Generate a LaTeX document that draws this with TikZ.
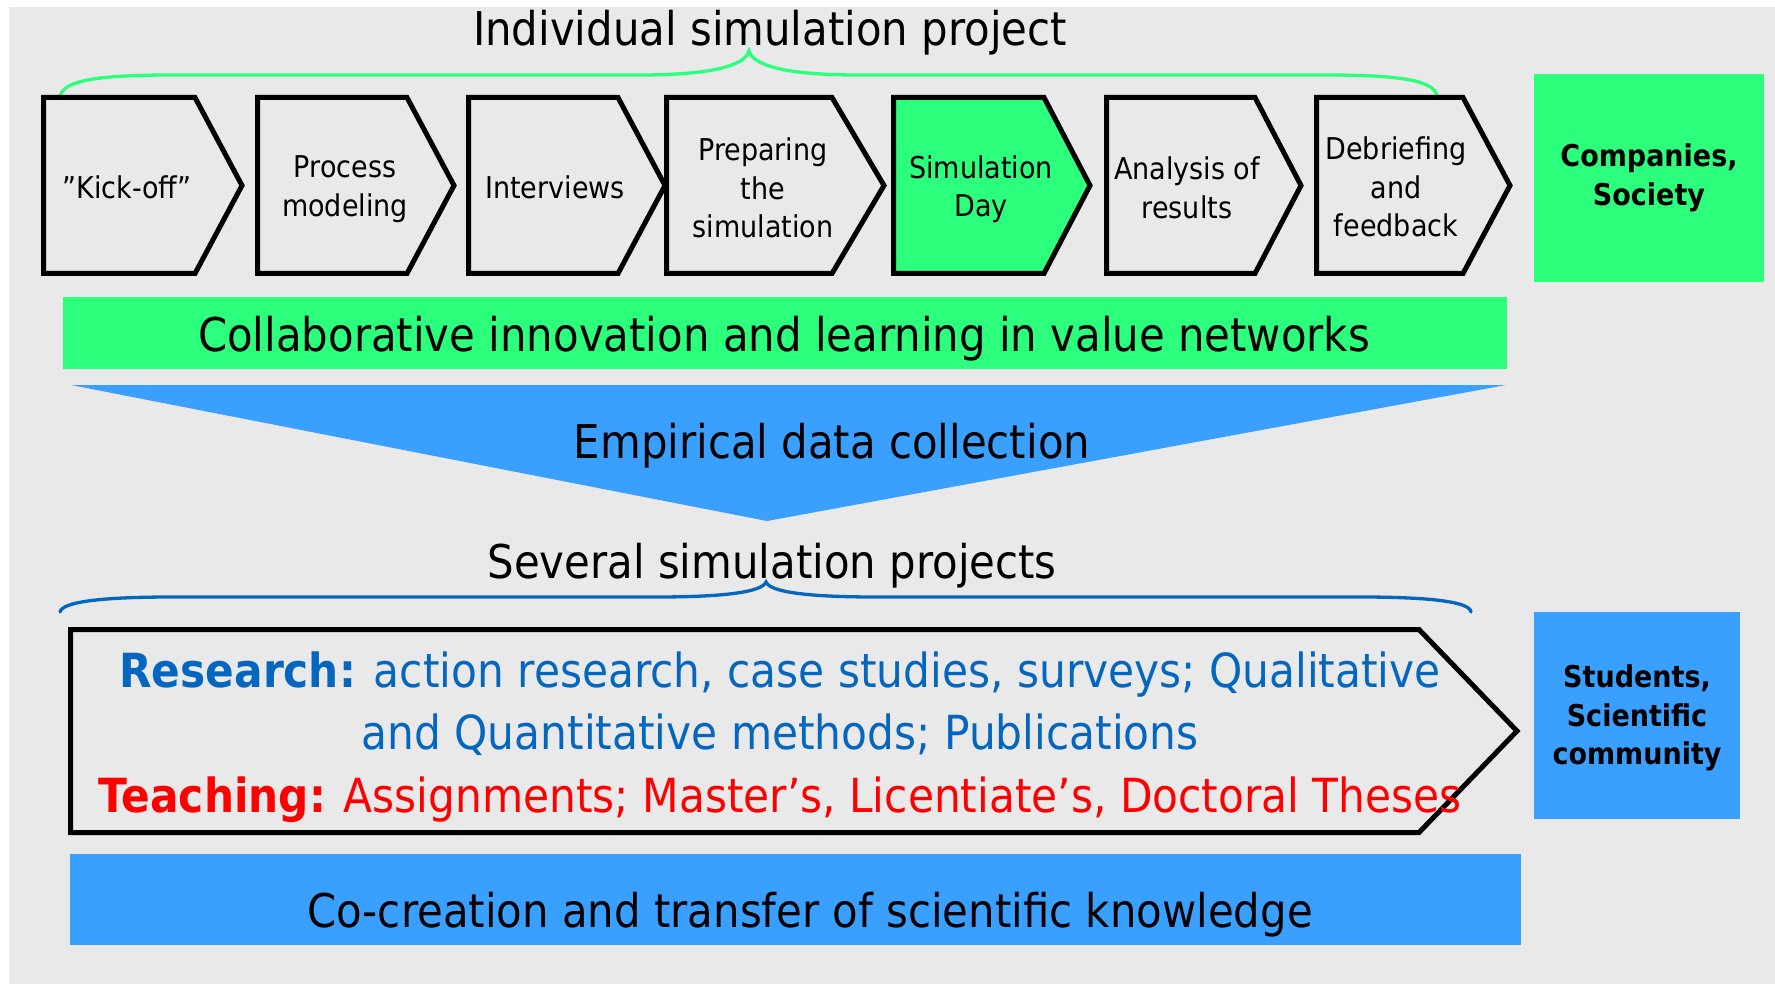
\documentclass[tikz,border=0pt]{standalone}
\usepackage{fontspec}
\setmainfont{DejaVu Sans}[FakeStretch=0.9]
\definecolor{bg}{RGB}{233,233,233}
\definecolor{sgreen}{RGB}{44,255,123}
\definecolor{sblue}{RGB}{58,160,255}
\definecolor{dblue}{RGB}{5,102,192}
\definecolor{sred}{RGB}{255,0,0}
\begin{document}
\begin{tikzpicture}[x=1pt,y=-1pt,
  chev/.style={draw=black,line width=5pt,line join=miter},
  chevtext/.style={align=center,font=\fontsize{30}{38.5}\selectfont,inner sep=0pt},
  bigtext/.style={anchor=base,inner sep=0pt,font=\fontsize{46.5}{56}\selectfont},
  sidebox/.style={inner sep=0pt,align=center,font=\fontsize{30}{38.5}\selectfont\bfseries},
  brace/.style={line width=3.3pt,line cap=round}]
\useasboundingbox (0,0) rectangle (1775,984);
\fill[white] (0,0) rectangle (1775,984);
\fill[bg] (9,7) rectangle (1775,984);
% top brace
\draw[brace,sgreen] (60,97) .. controls (62,80) and (100,75) .. (172,75) -- (640,75)
  .. controls (710,75) and (745,66) .. (749,51)
  .. controls (753,66) and (788,75) .. (858,75) -- (1326,75)
  .. controls (1398,75) and (1436,80) .. (1437,97);
\node[bigtext] (title) at (770,46) {Individual simulation project};
% chevrons
\draw[chev] (43.5,97.5) -- (195,97.5) -- (242,185.5) -- (195,273.5) -- (43.5,273.5) -- cycle;
\draw[chev] (257.5,97.5) -- (407,97.5) -- (454,185.5) -- (407,273.5) -- (257.5,273.5) -- cycle;
\draw[chev] (468.5,97.5) -- (618,97.5) -- (665,185.5) -- (618,273.5) -- (468.5,273.5) -- cycle;
\draw[chev] (666.5,97.5) -- (832,97.5) -- (884,185.5) -- (832,273.5) -- (666.5,273.5) -- cycle;
\draw[chev,fill=sgreen] (893.5,97.5) -- (1044,97.5) -- (1090,185.5) -- (1044,273.5) -- (893.5,273.5) -- cycle;
\draw[chev] (1106.5,97.5) -- (1255,97.5) -- (1301,185.5) -- (1255,273.5) -- (1106.5,273.5) -- cycle;
\draw[chev] (1316.5,97.5) -- (1463,97.5) -- (1510,185.5) -- (1463,273.5) -- (1316.5,273.5) -- cycle;
\node[chevtext] (c1) at (127,187) {”Kick-off”};
\node[chevtext] (c2) at (345,189) {Process\\modeling};
\node[chevtext] (c3) at (555,187) {Interviews};
\node[chevtext] (c4) at (763,188) {Preparing\\the\\simulation};
\node[chevtext] (c5) at (981,189) {Simulation\\Day};
\node[chevtext] (c6) at (1187,188) {Analysis of\\results};
\node[chevtext] (c7) at (1396,187) {Debriefing\\and\\feedback};
\node[sidebox,fill=sgreen,minimum width=230,minimum height=208] (comp) at (1649,178) {Companies,\\Society};
% green bar
\node[fill=sgreen,minimum width=1444,minimum height=72,inner sep=0pt,anchor=north west] (collab) at (63,297) {};
\node[bigtext] (collabt) at (784,352) {Collaborative innovation and learning in value networks};
% triangle
\fill[sblue] (71,385) -- (1506,385) -- (767,521) -- cycle;
\node[bigtext] (emp) at (832,458) {Empirical data collection};
\node[bigtext] (sev) at (772,578) {Several simulation projects};
% bottom brace
\draw[brace,dblue] (60,612) .. controls (62,602) and (100,597) .. (172,597) -- (656,597)
  .. controls (725,597) and (762,592) .. (766,582)
  .. controls (770,592) and (807,597) .. (876,597) -- (1360,597)
  .. controls (1432,597) and (1470,602) .. (1471,612);
% big chevron
\draw[chev] (70.5,629.5) -- (1419,629.5) -- (1517,731) -- (1419,832.5) -- (70.5,832.5) -- cycle;
\node[align=center,inner sep=0pt,font=\fontsize{47}{62.5}\selectfont] (rt) at (780,737)
  {\color{dblue}\textbf{Research:} action research, case studies, surveys; Qualitative\\
   \color{dblue}and Quantitative methods; Publications\\
   \color{sred}\textbf{Teaching:} Assignments; Master’s, Licentiate’s, Doctoral Theses};
\node[sidebox,fill=sblue,minimum width=206,minimum height=207] (stud) at (1637,715.5) {};
\node[sidebox] (studt) at (1637,718) {Students,\\Scientific\\community};
% bottom bar
\node[fill=sblue,minimum width=1451,minimum height=91,inner sep=0pt,anchor=north west] (cocr) at (70,854) {};
\node[bigtext] (cocrt) at (810,927) {Co-creation and transfer of scientific knowledge};
\end{tikzpicture}
\end{document}
